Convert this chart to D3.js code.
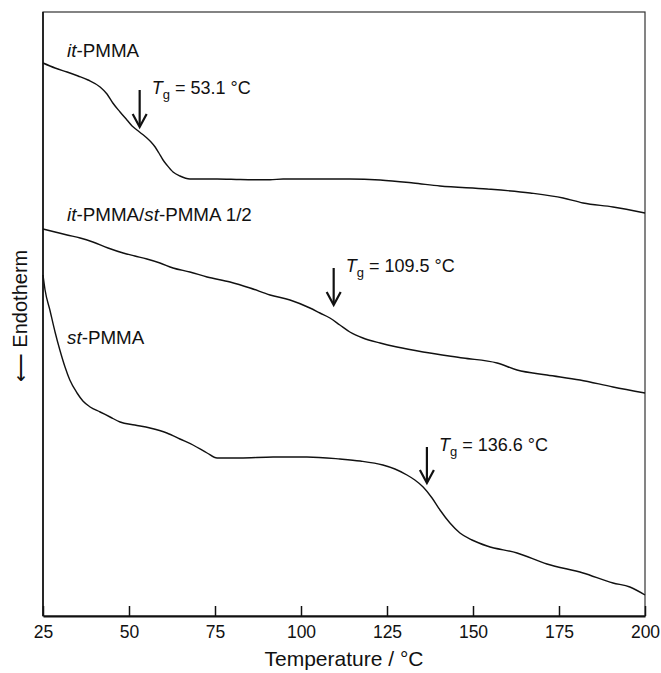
<!DOCTYPE html>
<html>
<head>
<meta charset="utf-8">
<script src="https://cdn.jsdelivr.net/npm/d3@7"></script>
<style>
body { margin: 0; background: #fff; }
svg text { font-family: "Liberation Sans", Arial, sans-serif; fill: #111; }
</style>
</head>
<body>
<svg id="chart"></svg>
<script>
// x axis ticks (temperature, C)
var tempTicks = [25, 50, 75, 100, 125, 150, 175, 200];

// it-PMMA trace (heat flow in arbitrary units)
var itTemp = [25.0, 28.5, 32.0, 35.2, 38.1, 41.6, 43.6, 45.3, 47.4, 49.4, 50.9, 52.3, 53.8, 55.2, 56.4, 57.6, 58.7, 59.9, 61.0, 62.8, 64.8, 67.7, 75.6, 82.3, 91.0, 94.8, 102.6, 114.2, 123.0, 132.6, 140.4, 154.1, 166.6, 176.2, 182.0, 190.7, 200.0];
var itHeat = [55.3, 54.8, 54.4, 54.0, 53.6, 52.9, 52.2, 51.3, 50.4, 49.6, 49.0, 48.6, 48.2, 47.8, 47.4, 46.9, 46.3, 45.6, 45.1, 44.4, 44.0, 43.7, 43.7, 43.65, 43.62, 43.7, 43.7, 43.7, 43.6, 43.3, 43.0, 42.7, 42.3, 41.8, 41.3, 40.9, 40.3];

// it-PMMA/st-PMMA 1/2 blend
var blendTemp = [25.0, 28.5, 32.0, 35.8, 39.5, 43.9, 48.3, 51.7, 55.2, 59.0, 62.8, 67.7, 72.7, 79.4, 85.2, 91.0, 96.8, 102.6, 105.5, 108.4, 111.3, 114.2, 118.0, 123.0, 127.9, 135.5, 147.1, 157.0, 162.8, 171.5, 181.1, 190.7, 200.0];
var blendHeat = [38.7, 38.4, 38.1, 37.8, 37.4, 36.8, 36.3, 36.0, 35.7, 35.3, 34.8, 34.4, 33.9, 33.4, 32.8, 32.1, 31.6, 30.8, 30.3, 29.8, 29.1, 28.4, 27.8, 27.3, 26.9, 26.4, 25.8, 25.3, 24.6, 24.1, 23.6, 22.9, 22.3];

// st-PMMA trace
var stTemp = [25.0, 25.6, 27.0, 28.5, 29.9, 31.4, 32.8, 34.9, 36.6, 38.7, 41.6, 44.5, 47.4, 51.7, 56.1, 61.0, 64.8, 68.6, 72.7, 75.6, 82.3, 91.9, 101.7, 111.3, 117.2, 123.8, 127.3, 130.8, 133.1, 135.5, 138.1, 140.4, 143.3, 146.2, 149.7, 154.1, 162.8, 171.5, 182.0, 190.7, 195.6, 200.0];
var stHeat = [34.1, 32.6, 30.6, 28.4, 26.6, 24.9, 23.6, 22.3, 21.5, 20.9, 20.4, 19.9, 19.4, 19.1, 18.8, 18.3, 17.7, 17.1, 16.3, 15.8, 15.8, 15.9, 15.9, 15.7, 15.5, 15.1, 14.7, 14.1, 13.6, 12.9, 11.8, 10.6, 9.3, 8.3, 7.6, 7.0, 6.3, 5.2, 4.3, 3.3, 2.9, 2.1];

// glass transitions: Tg, arrow top and arrow tip (same heat units)
var tgValues = [53.1, 109.5, 136.6];
var tgArrowTop = [52.6, 34.8, 16.9];
var tgArrowTip = [48.9, 31.1, 13.3];

var width = 661, height = 673;
var margin = {top: 12, right: 16, bottom: 57, left: 43};
var plotW = width - margin.left - margin.right;
var plotH = height - margin.top - margin.bottom;

var svg = d3.select('#chart')
    .attr('width', width)
    .attr('height', height);

var g = svg.append('g')
    .attr('transform', 'translate(' + margin.left + ',' + margin.top + ')');

var xScale = d3.scaleLinear()
    .domain([25, 200])
    .range([0, plotW]);

var yScale = d3.scaleLinear()
    .domain([0, 60.4])
    .range([plotH, 0]);

// frame
g.append('rect')
    .attr('x', 0).attr('y', 0)
    .attr('width', plotW).attr('height', plotH)
    .attr('fill', 'none')
    .attr('stroke', '#333')
    .attr('stroke-width', 1.2);

g.append('line')
    .attr('x1', 0).attr('x2', 0)
    .attr('y1', 0).attr('y2', plotH)
    .attr('stroke', '#111')
    .attr('stroke-width', 1.6);

// x axis, ticks pointing in
var xAxis = d3.axisBottom(xScale)
    .tickValues(tempTicks)
    .tickSizeInner(-10)
    .tickSizeOuter(0)
    .tickPadding(10)
    .tickFormat(d3.format('d'));

var axisG = g.append('g')
    .attr('transform', 'translate(0,' + plotH + ')')
    .call(xAxis);
axisG.select('.domain')
    .attr('stroke', '#111')
    .attr('stroke-width', 2.2);
axisG.selectAll('.tick line')
    .attr('stroke', '#111')
    .attr('stroke-width', 1.5);
axisG.selectAll('.tick text')
    .attr('font-size', 17.5)
    .attr('font-family', '"Liberation Sans", Arial, sans-serif')
    .attr('fill', '#111');

svg.append('text')
    .attr('x', margin.left + plotW / 2)
    .attr('y', 666)
    .attr('text-anchor', 'middle')
    .attr('font-size', 21)
    .text('Temperature / \u00B0C');

svg.append('text')
    .attr('transform', 'translate(27,316) rotate(-90)')
    .attr('text-anchor', 'middle')
    .attr('font-size', 20)
    .text('\u27F5 Endotherm');

// traces
var line = d3.line()
    .x(function (d) { return xScale(d[0]); })
    .y(function (d) { return yScale(d[1]); })
    .curve(d3.curveMonotoneX);

var traces = [
    d3.zip(itTemp, itHeat),
    d3.zip(blendTemp, blendHeat),
    d3.zip(stTemp, stHeat)
];

g.selectAll('path.trace')
    .data(traces)
    .enter()
    .append('path')
    .attr('class', 'trace')
    .attr('d', line)
    .attr('fill', 'none')
    .attr('stroke', '#111')
    .attr('stroke-width', 1.4)
    .attr('stroke-linejoin', 'round');

// curve labels (italic prefixes)
function addLabel(parts, t, h) {
    var txt = g.append('text')
        .attr('x', xScale(t))
        .attr('y', yScale(h))
        .attr('font-size', 18.8);
    parts.forEach(function (p) {
        txt.append('tspan')
            .attr('font-style', p[1] ? 'italic' : 'normal')
            .text(p[0]);
    });
}
addLabel([['it', true], ['-PMMA', false]], 32.0, 55.9);
addLabel([['it', true], ['-PMMA/', false], ['st', true], ['-PMMA 1/2', false]], 32.0, 39.5);
addLabel([['st', true], ['-PMMA', false]], 32.0, 27.2);

// Tg arrows + labels
tgValues.forEach(function (tg, i) {
    var ax = xScale(tg);
    var yTop = yScale(tgArrowTop[i]);
    var yTip = yScale(tgArrowTip[i]);
    g.append('line')
        .attr('x1', ax).attr('x2', ax)
        .attr('y1', yTop).attr('y2', yTip - 1)
        .attr('stroke', '#111')
        .attr('stroke-width', 2.2);
    g.append('path')
        .attr('d', 'M' + (ax - 7) + ',' + (yTip - 13) + 'L' + ax + ',' + yTip + 'L' + (ax + 7) + ',' + (yTip - 13))
        .attr('fill', 'none')
        .attr('stroke', '#111')
        .attr('stroke-width', 2.2);

    var lab = g.append('text')
        .attr('x', ax + 12)
        .attr('y', yTop + 4)
        .attr('font-size', 18);
    lab.append('tspan').attr('font-style', 'italic').text('T');
    lab.append('tspan').attr('font-size', 13).attr('dy', 5).text('g');
    lab.append('tspan').attr('dy', -5).text(' = ' + tg.toFixed(1) + ' \u00B0C');
});
</script>
</body>
</html>
